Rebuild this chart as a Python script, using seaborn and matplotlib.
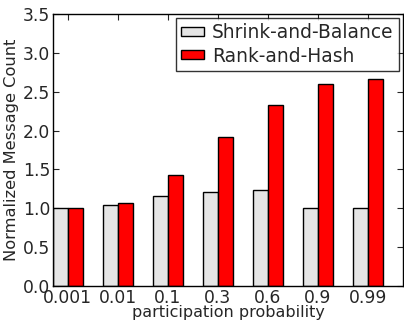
import pandas as pd
import matplotlib
matplotlib.use('Agg')
import matplotlib.pyplot as plt
import seaborn as sns

sns.set_style("ticks")
plt.rcParams['font.family'] = ['DejaVu Sans']

# Data
probabilities = ['0.001', '0.01', '0.1', '0.3', '0.6', '0.9', '0.99']
shrink_and_balance = [1.01, 1.04, 1.16, 1.21, 1.24, 1.01, 1.00]
rank_and_hash = [1.01, 1.07, 1.43, 1.92, 2.33, 2.60, 2.66]
methods = ['Shrink-and-Balance', 'Rank-and-Hash']

df = pd.DataFrame({
    'prob': probabilities * 2,
    'count': shrink_and_balance + rank_and_hash,
    'method': [methods[0]] * len(probabilities) + [methods[1]] * len(probabilities),
})

fig = plt.figure(figsize=(4.04, 3.21), dpi=100)
ax = fig.add_axes([0.131, 0.109, 0.8665, 0.847])
sns.barplot(data=df, x='prob', y='count', hue='method', order=probabilities,
            hue_order=methods, palette=['#e5e5e5', '#ff0000'], saturation=1,
            width=0.6, edgecolor='black', linewidth=1, ax=ax)

ax.set_xlim(-0.3, 6.7)
ax.set_ylim(0, 3.5)
ax.set_yticks([0.0, 0.5, 1.0, 1.5, 2.0, 2.5, 3.0, 3.5])
ax.yaxis.set_major_formatter(matplotlib.ticker.FormatStrFormatter('%.1f'))
ax.tick_params(direction='in', top=True, right=True, length=4, labelsize=12.3, pad=2)
ax.set_xlabel('participation probability', fontsize=11.5, labelpad=-1)
ax.set_ylabel('Normalized Message Count', fontsize=11.7, labelpad=3)
for s in ax.spines.values():
    s.set_linewidth(1)
    s.set_color('black')

leg = ax.legend(loc='upper right', fontsize=13.4, frameon=True, fancybox=False,
                borderpad=0.3, labelspacing=0.22, handlelength=1.2, handleheight=0.35,
                handletextpad=0.45, borderaxespad=0.2)
leg.get_frame().set_edgecolor('black')
leg.get_frame().set_linewidth(1)

fig.savefig('out.png', dpi=100)
